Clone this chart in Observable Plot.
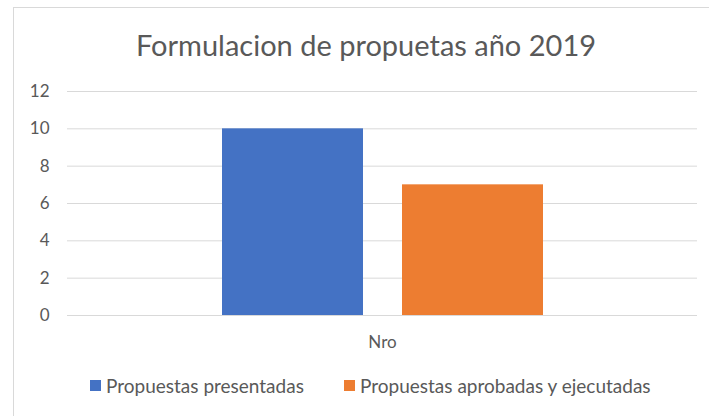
<!DOCTYPE html>
<html>
<head>
<meta charset="utf-8">
<script src="https://cdn.jsdelivr.net/npm/d3@7"></script>
<script src="https://cdn.jsdelivr.net/npm/@observablehq/plot@0.6"></script>
<style>
  body { margin: 0; background: #ffffff; width: 709px; height: 416px; overflow: hidden; position: relative; font-family: Lato, "Open Sans", sans-serif; }
  #frame { position: absolute; left: 13px; top: 7px; width: 800px; height: 500px; border: 1px solid #d9d9d9; background: #fff; }
  #chart { position: absolute; left: 0; top: 0; }
  #title { position: absolute; left: 0; width: 732px; top: 27px; text-align: center; font-size: 29px; color: #595959; white-space: nowrap; }
  #legend { position: absolute; top: 374px; left: 0; width: 709px; font-size: 19px; color: #595959; white-space: nowrap; }
  .item { position: absolute; display: flex; align-items: center; }
  .sw { width: 11px; height: 11px; margin-right: 5px; }
</style>
</head>
<body>
<div id="frame"></div>
<div id="chart"></div>
<div id="title">Formulacion de propuetas año 2019</div>
<div id="legend"></div>
<script>
const categories = ["Nro"];
const series = ["Propuestas presentadas", "Propuestas aprobadas y ejecutadas"];
const values = [10, 7];
const colors = ["#4472C4", "#ED7D31"];
const yTicks = [0, 2, 4, 6, 8, 10, 12];

const data = series.map((s, i) => ({category: categories[0], series: s, value: values[i]}));

const chart = Plot.plot({
  width: 709,
  height: 416,
  marginTop: 91,
  marginBottom: 101,
  marginLeft: 67,
  marginRight: 12,
  style: {background: "transparent", fontFamily: "Lato, 'Open Sans', sans-serif", color: "#595959"},
  fx: {domain: categories, padding: 0, label: null},
  x: {domain: series, paddingInner: 0.217, paddingOuter: 0.858, axis: null},
  y: {domain: [0, 12], label: null},
  color: {domain: series, range: colors},
  marks: [
    Plot.ruleY(yTicks, {stroke: "#d9d9d9", strokeWidth: 1}),
    Plot.barY(data, {fx: "category", x: "series", y: "value", fill: "series"}),
    Plot.axisY(yTicks, {tickSize: 0, tickPadding: 18, fontSize: 17, fill: "#595959", label: null}),
    Plot.axisFx({anchor: "bottom", tickSize: 0, tickPadding: 20, fontSize: 17, fill: "#595959", label: null})
  ]
});
document.getElementById("chart").appendChild(chart);

const legend = document.getElementById("legend");
const lefts = [90, 344];
series.forEach((s, i) => {
  const it = document.createElement("div");
  it.className = "item";
  it.style.left = lefts[i] + "px";
  it.innerHTML = `<span class="sw" style="background:${colors[i]}"></span><span>${s}</span>`;
  legend.appendChild(it);
});
</script>
</body>
</html>
